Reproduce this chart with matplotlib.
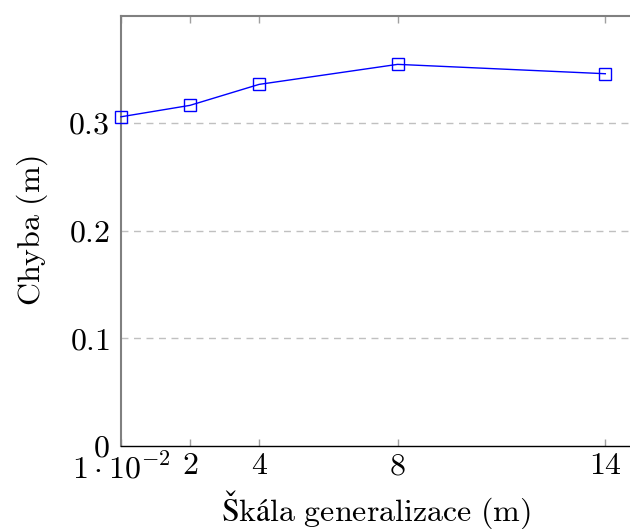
import matplotlib
matplotlib.use("Agg")
import matplotlib.pyplot as plt

x_vals = [0.01, 2, 4, 8, 14]
y_vals = [0.3058, 0.3164, 0.3359, 0.3545, 0.3458]
x_ticks = [0.01, 2, 4, 8, 14]
x_tick_labels = [r'$1\cdot10^{-2}$', r'$2$', r'$4$', r'$8$', r'$14$']
y_ticks = [0, 0.1, 0.2, 0.3]
y_tick_labels = [r'$0$', r'$0.1$', r'$0.2$', r'$0.3$']

plt.rcParams['mathtext.fontset'] = 'cm'
plt.rcParams['font.family'] = ['cmr10', 'DejaVu Serif']

FS = 23

fig = plt.figure(figsize=(6.3, 5.29), dpi=100)
ax = fig.add_axes([121/630, 1 - 446/529, 1 - 121/630 + 0.002, (446 - 15.7)/529])

ax.plot(x_vals, y_vals, color=(0, 0, 1), lw=1.0, marker='s', markersize=8,
        markerfacecolor='none', markeredgecolor=(0, 0, 1), markeredgewidth=1.0,
        zorder=3, clip_on=False)

ax.set_xlim(0.01, 14.75)
ax.set_ylim(0, 0.3997)

ax.set_xticks(x_ticks)
ax.set_xticklabels(x_tick_labels)
ax.set_yticks(y_ticks)
ax.set_yticklabels(y_tick_labels)

ax.tick_params(axis='x', direction='in', length=5, width=1, color='#a0a0a0',
               top=True, labelsize=FS, pad=5)
ax.tick_params(axis='y', length=0, labelsize=FS, pad=8)

for yv in y_ticks[1:]:
    ax.axhline(yv, color='#c0c0c0', lw=1.0, linestyle=(0, (5, 4)), zorder=1)

ax.spines['right'].set_visible(False)
ax.spines['top'].set_color('#808080')
ax.spines['left'].set_color('#808080')
ax.spines['top'].set_linewidth(1.5)
ax.spines['left'].set_linewidth(1.5)
ax.spines['bottom'].set_color('black')
ax.spines['bottom'].set_linewidth(1.0)

ax.set_xlabel(r'$\mathrm{Škála\ generalizace\ (m)}$', fontsize=FS, labelpad=3)
ax.set_ylabel(r'$\mathrm{Chyba\ (m)}$', fontsize=FS, labelpad=13)

fig.savefig('out.png', dpi=100)
